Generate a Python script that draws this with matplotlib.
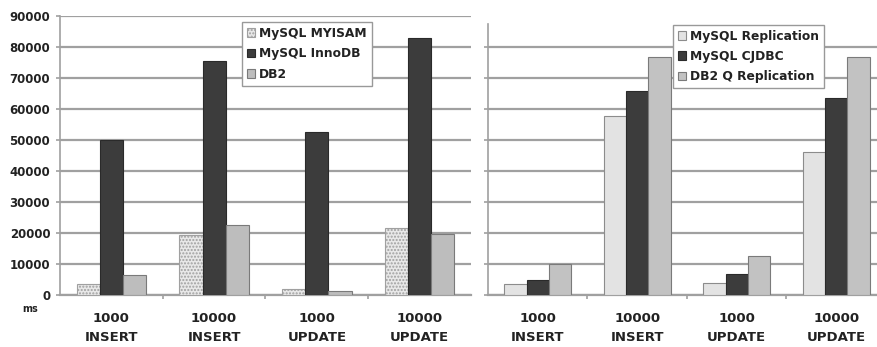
import matplotlib
matplotlib.use('Agg')
from matplotlib import pyplot as plt
import numpy as np

plt.rcParams['font.family'] = ['DejaVu Sans']

categories = ['1000\nINSERT', '10000\nINSERT', '1000\nUPDATE', '10000\nUPDATE']

left_names = ['MySQL MYISAM', 'MySQL InnoDB', 'DB2']
myisam = [3500, 19500, 1800, 21500]
innodb = [50000, 75500, 52500, 83000]
db2 = [6400, 22500, 1300, 19800]

right_names = ['MySQL Replication', 'MySQL CJDBC', 'DB2 Q Replication']
mysql_repl = [3500, 57700, 3800, 46200]
mysql_cjdbc = [4800, 65900, 6800, 63400]
db2_q_repl = [9900, 76700, 12600, 76900]

yticks = [0, 10000, 20000, 30000, 40000, 50000, 60000, 70000, 80000, 90000]

grid_col = '#a0a0a0'
styles = [
    dict(color='#e8e8e8', edgecolor='#a0a0a0', hatch='.....'),
    dict(color='#3c3c3c', edgecolor='#2a2a2a'),
    dict(color='#bdbdbd', edgecolor='#7a7a7a'),
]
styles_r = [
    dict(color='#e3e3e3', edgecolor='#8c8c8c'),
    dict(color='#3c3c3c', edgecolor='#2a2a2a'),
    dict(color='#c2c2c2', edgecolor='#7a7a7a'),
]


def draw_panel(ax, series, names, sty, ymax, show_labels, legend_bbox):
    x = np.arange(len(categories))
    w = 0.225
    for i, (vals, name) in enumerate(zip(series, names)):
        ax.bar(x + (i - 1) * w, vals, w, label=name, linewidth=0.8,
               zorder=3, **sty[i])
    ax.set_xlim(-0.5, 3.5 if show_labels else 3.41)
    ax.set_ylim(0, ymax)
    ax.set_yticks(yticks[:-1] if not show_labels else yticks)
    ax.yaxis.grid(True, color=grid_col, linewidth=1.6, zorder=0)
    ax.set_axisbelow(True)
    for s in ['top', 'right']:
        ax.spines[s].set_visible(False)
    ax.spines['left'].set_color(grid_col)
    ax.spines['left'].set_linewidth(1.2)
    ax.spines['bottom'].set_color(grid_col)
    ax.spines['bottom'].set_linewidth(1.6)
    ax.tick_params(axis='y', length=3, color=grid_col, width=1.2,
                   labelsize=8.5, pad=4)
    if show_labels:
        for t in ax.get_yticklabels():
            t.set_fontweight('bold')
            t.set_color('#222222')
    else:
        ax.tick_params(axis='y', labelleft=False)
    ax.set_xticks(x)
    ax.set_xticklabels(categories, fontsize=9.5, fontweight='bold',
                       color='#222222', linespacing=1.65)
    ax.tick_params(axis='x', length=0, pad=12)
    ax.set_xticks([0.5, 1.5, 2.5], minor=True)
    ax.tick_params(axis='x', which='minor', length=3, color=grid_col,
                   width=1.2)
    leg = ax.legend(loc='upper left', bbox_to_anchor=legend_bbox,
                    prop={'weight': 'bold', 'size': 8.8},
                    handlelength=0.7, handleheight=0.7, handletextpad=0.3,
                    labelspacing=0.6, borderpad=0.4, fancybox=False,
                    framealpha=1, edgecolor='#999999')
    leg.get_frame().set_linewidth(1.0)
    for t in leg.get_texts():
        t.set_color('#222222')


fig = plt.figure(figsize=(8.77, 3.47), dpi=100)
ax1 = fig.add_axes([0.0684, 0.1499, 0.4686, 0.8041])
ax2 = fig.add_axes([0.5564, 0.1499, 0.4436, 0.7810])

draw_panel(ax1, [myisam, innodb, db2], left_names, styles, 90000, True,
           (0.428, 1.0))
draw_panel(ax2, [mysql_repl, mysql_cjdbc, db2_q_repl], right_names, styles_r,
           87400, False, (0.46, 1.02))

fig.text(30 / 877, 1 - 309 / 347, 'ms', fontsize=7, fontweight='bold',
         color='#222222', ha='center', va='center')

fig.savefig('out.png', dpi=100)
